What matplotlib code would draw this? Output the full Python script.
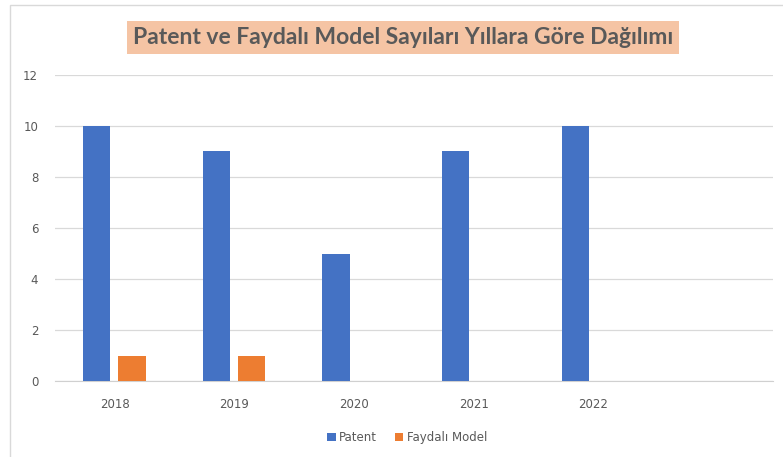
import matplotlib.pyplot as plt
import numpy as np
from matplotlib.patches import Rectangle

# 数据
years = ['2018', '2019', '2020', '2021', '2022', '']
patent = [10, 9, 5, 9, 10, 0]
faydali_model = [1, 1, 0, 0, 0, 0]

blue = '#4472C4'
orange = '#ED7D31'
grey = '#595959'

fig = plt.figure(figsize=(7.83, 4.57), dpi=100)
ax = fig.add_axes([0.070, 0.166, 0.917, 0.670])

x = np.arange(len(years))
w = 0.23
ax.bar(x - 0.15, patent, w, color=blue, label='Patent', zorder=3)
ax.bar(x + 0.145, faydali_model, w, color=orange, label='Faydalı Model', zorder=3)

ax.set_xlim(-0.5, len(years) - 0.5)
ax.set_ylim(0, 12)
ax.set_yticks(range(0, 13, 2))
ax.set_xticks(x)
ax.set_xticklabels(years)
ax.tick_params(axis='both', length=0, labelsize=8.5, colors=grey)
ax.tick_params(axis='x', pad=12)
ax.tick_params(axis='y', pad=12)
ax.grid(axis='y', color='#D9D9D9', linewidth=0.9, zorder=0)
for s in ['top', 'right', 'left']:
    ax.spines[s].set_visible(False)
ax.spines['bottom'].set_color('#D0D0D0')

# 标题
fig.text(0.515, 0.918, 'Patent ve Faydalı Model Sayıları Yıllara Göre Dağılımı',
         ha='center', va='center', fontsize=16.5, fontweight='bold', color=grey,
         family='Lato',
         bbox=dict(boxstyle='square,pad=0.25', facecolor='#F5C4A4', edgecolor='none'))

fig.legend(loc='center', bbox_to_anchor=(0.52, 0.043), ncol=2, frameon=False,
           fontsize=8.5, labelcolor=grey, handlelength=0.7, handleheight=0.7,
           handletextpad=0.3, columnspacing=1.5)

# 边框
fig.add_artist(Rectangle((0.013, -0.01), 0.99, 1.0, transform=fig.transFigure,
                         fill=False, edgecolor='#D9D9D9', linewidth=1))

fig.savefig('out.png', dpi=100)
